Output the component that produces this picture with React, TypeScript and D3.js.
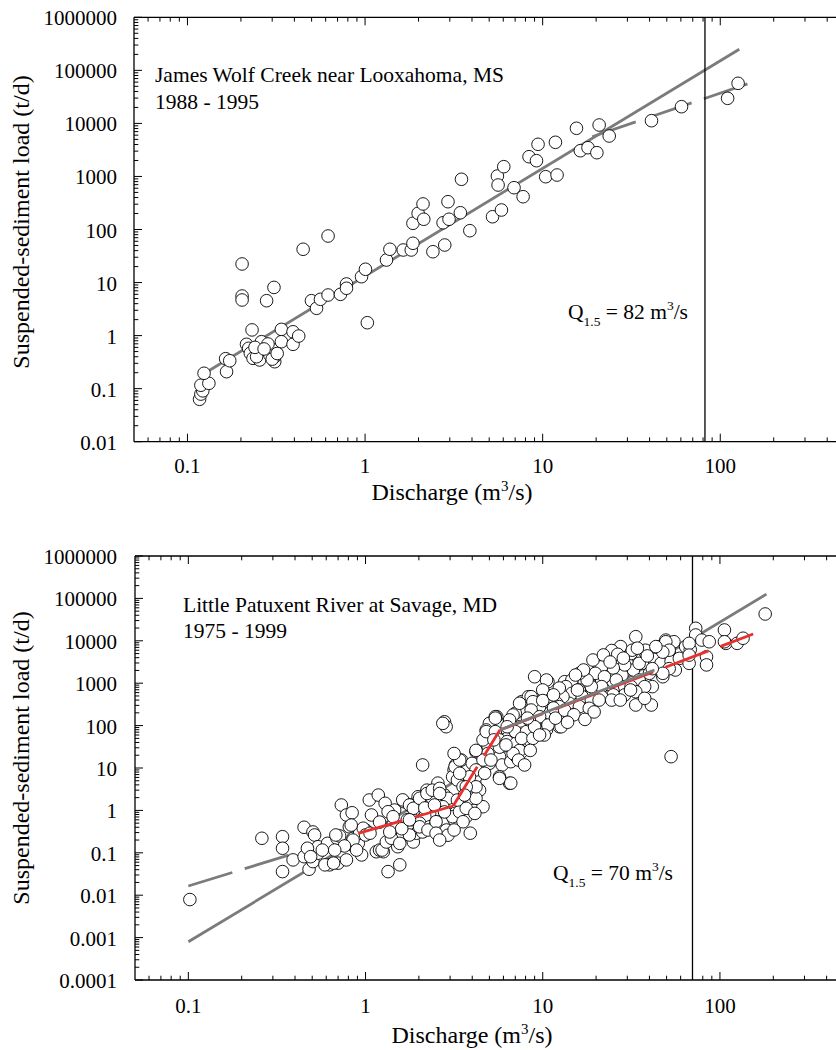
import React from "react";
import * as d3 from "d3";

type Pt = [number, number];

// ---------- James Wolf Creek (discharge m3/s, load t/d) ----------
const jamesPoints: Pt[] = [
  [0.117, 0.063], [0.119, 0.079], [0.122, 0.091], [0.119, 0.116], [0.132, 0.126], [0.124, 0.195],
  [0.166, 0.209], [0.164, 0.367], [0.173, 0.336], [0.203, 22.4], [0.203, 5.57], [0.203, 4.69],
  [0.279, 4.55], [0.307, 8.1], [0.448, 42.4], [0.619, 75.4], [0.231, 1.28], [0.215, 0.685],
  [0.221, 0.576], [0.226, 0.464], [0.234, 0.373], [0.255, 0.347], [0.261, 0.767], [0.279, 0.535],
  [0.291, 0.431], [0.31, 0.322], [0.31, 0.4], [0.31, 0.535], [0.338, 1.31], [0.338, 0.767],
  [0.393, 1.18], [0.393, 0.685], [0.423, 0.98], [0.499, 4.55], [0.533, 3.27], [0.561, 4.83],
  [0.619, 5.82], [0.727, 6.0], [0.786, 9.4], [0.786, 7.8], [0.955, 12.9], [1.005, 17.8],
  [1.03, 1.75], [1.32, 26.6], [1.38, 42.4], [1.64, 41.1], [1.82, 41.1], [1.86, 55],
  [1.86, 131], [1.99, 202], [2.12, 303], [2.14, 156], [2.41, 38.1], [2.75, 134],
  [2.81, 51], [2.93, 334], [2.97, 156], [3.44, 207], [3.49, 884], [3.89, 94.9],
  [5.22, 174], [5.86, 233], [5.56, 1019], [5.61, 690], [6.04, 1528], [6.9, 614],
  [7.76, 415], [8.38, 2356], [9.23, 1982], [9.42, 4036], [10.4, 989], [12.05, 1064],
  [11.8, 4403], [15.5, 8090], [16.3, 3056], [18.0, 3483], [20.2, 2805], [20.8, 9330],
  [23.7, 5785], [41.0, 11250], [60.5, 20650], [110, 29700], [126, 57000],
  [0.245, 0.4], [0.284, 0.695], [0.24, 0.6], [0.3, 0.36], [0.32, 0.46], [0.27, 0.56],
];
const jamesFitAll: Pt[] = [[0.125, 0.195], [128, 250000]];
const jamesFitHigh: Pt[] = [[19, 5600], [148, 58000]];
const jamesQ15 = 82;

// ---------- Little Patuxent River ----------
const patuxentPoints: Pt[] = [
  [0.102, 0.0079], [0.26, 0.22], [0.34, 0.24], [0.34, 0.128], [0.34, 0.036], [0.39, 0.068],
  [0.45, 0.4], [0.505, 0.31], [0.516, 0.263], [0.45, 0.081], [0.48, 0.041], [0.505, 0.062],
  [0.54, 0.098], [0.54, 0.139], [0.61, 0.167], [0.627, 0.052], [0.7, 0.057], [0.78, 0.068],
  [0.69, 0.22], [0.714, 0.25], [0.73, 1.34], [0.78, 0.78], [0.84, 0.88], [0.81, 0.41],
  [0.85, 0.22], [0.85, 0.15], [0.91, 0.167], [0.95, 0.089], [0.926, 0.29], [1.0, 0.345],
  [1.05, 1.76], [1.18, 2.3], [1.29, 1.47], [1.46, 1.02], [1.49, 0.41], [1.15, 0.106],
  [1.2, 0.116], [1.26, 0.106], [1.34, 0.036], [1.56, 0.052], [1.62, 0.263], [1.65, 1.6],
  [1.81, 1.34], [1.94, 0.59], [1.86, 0.18], [1.98, 2.1], [1.43, 0.45], [1.34, 0.93],
  [0.68, 0.263], [0.97, 0.38], [0.83, 0.45], [0.59, 0.052], [0.66, 0.057], [0.47, 0.128],
  [0.49, 0.081], [1.0, 0.263], [0.85, 0.2], [1.06, 0.29],
  [1.62, 1.77], [1.77, 1.34], [1.88, 1.02], [1.85, 0.6], [1.72, 0.6], [2.02, 1.47],
  [2.22, 3.0], [2.3, 2.5], [2.38, 1.93], [2.56, 4.4], [2.62, 3.0], [2.79, 2.3],
  [2.92, 1.93], [2.73, 1.22], [2.5, 1.02], [2.3, 0.85], [2.16, 0.71], [2.02, 0.5],
  [1.94, 0.29], [2.1, 0.31], [2.3, 0.41], [2.5, 0.5], [2.68, 0.41], [2.86, 0.54],
  [3.06, 0.78], [3.2, 0.85], [3.16, 0.6], [3.55, 1.22], [3.7, 0.71], [3.9, 0.29],
  [4.2, 1.12], [4.6, 1.22], [4.4, 3.0], [4.14, 4.36], [3.47, 15.4], [3.22, 11.8],
  [3.16, 8.97], [3.1, 6.2], [3.3, 5.2], [3.55, 3.6], [3.86, 3.0], [3.95, 1.93],
  [4.2, 1.93], [4.2, 6.2], [4.0, 12.9], [4.2, 24.3], [4.8, 18.5], [4.9, 35],
  [5.0, 12.9], [5.5, 29], [5.7, 18.5], [5.9, 11.8], [6.6, 14.1], [6.5, 4.36],
  [5.7, 6.2], [7.1, 18.5], [7.0, 66], [7.6, 46], [8.1, 39], [7.4, 94],
  [6.5, 124], [7.0, 195], [7.6, 366], [8.3, 480], [5.5, 162], [5.0, 113],
  [4.8, 79], [5.3, 60], [6.3, 79], [6.3, 50], [6.6, 32], [7.6, 24],
  [2.1, 11.8], [2.79, 123], [2.85, 94], [5.4, 162], [4.6, 46], [5.6, 46],
  [6.8, 178], [6.5, 94], [7.6, 66], [8.4, 46],
  [1.24, 0.116], [1.31, 0.18], [1.52, 0.139], [1.49, 0.41], [1.43, 0.71], [1.4, 0.22],
  [1.56, 0.167], [1.77, 0.263], [2.02, 0.41], [2.25, 0.345], [2.5, 0.54], [2.86, 0.345],
  [3.1, 0.71], [3.39, 0.93], [3.7, 1.12], [4.14, 0.85], [3.55, 0.54], [2.5, 0.29],
  [1.86, 1.12], [2.02, 1.93], [2.22, 2.5], [2.38, 3.0], [2.62, 3.3],
  [4.9, 22], [4.6, 15.4], [5.1, 15.4], [4.2, 26], [4.2, 9], [3.86, 6.2],
  [4.7, 7.5], [5.7, 5.7], [6.6, 4.4], [4.2, 3.6], [3.7, 3.6], [3.2, 10.7],
  [3.4, 15.4], [3.16, 22], [3.4, 7.5], [2.62, 2.5], [2.73, 113], [5.4, 150],
  [4.8, 72], [5.4, 72], [5.7, 46], [6.3, 42], [7.1, 39], [7.4, 26],
  [6.8, 22], [5.7, 31], [5.3, 46], [7.0, 72], [8.1, 72], [7.6, 50],
  [8.8, 50], [9.1, 94],
  [9.0, 1420], [10.7, 1085], [8.6, 480], [9.1, 256], [10.2, 578], [10.9, 440],
  [9.9, 162], [10.9, 136], [10.5, 79], [12.4, 94], [12.7, 195], [12.2, 336],
  [13.5, 692], [13.3, 1085], [14.6, 1000], [14.4, 480], [16.1, 692], [16.1, 336],
  [17.8, 1420], [18.3, 1000], [19.2, 578], [18.7, 336], [20.8, 2450], [21.5, 1190],
  [22.3, 692], [23.7, 480], [24.5, 4600], [27.5, 7300], [26.5, 2450], [28, 1560],
  [27, 692], [29, 578], [30, 2940], [31.5, 5000], [33.5, 12500], [32.5, 2050],
  [35, 1190], [36.5, 2940], [37.5, 5600], [40, 1710], [41.5, 830], [42.5, 3650],
  [45.4, 7300], [49.5, 10400], [55, 9500], [51.7, 5400], [46.5, 2940], [47.6, 1420],
  [53, 3300], [59, 3850], [56, 2050], [64, 7300], [68, 6200], [67, 2940],
  [73, 19700], [73, 13700], [79, 10400], [87, 9500], [84, 4200], [84, 2700],
  [106, 18000], [108, 8700], [125, 8700], [135, 11500], [180, 42900], [41, 306],
  [53, 18.5], [67, 8700], [67, 4600], [106, 9500], [49.5, 9500], [51.7, 6000],
  [47.6, 5400], [51.7, 2200], [47.6, 1710], [41.5, 2200], [37.6, 830],
  [24.5, 5900], [26.5, 4800], [32, 6000], [38, 6000], [43.5, 7300], [35, 2940],
  [29, 2700], [25, 2280], [21.5, 2450], [19.8, 1710], [22.3, 1420], [26, 1190],
  [29, 830], [31.5, 830], [33.5, 630], [29, 530], [25, 530], [21.5, 830],
  [18.8, 830], [17.8, 1190], [16.1, 1710], [14.6, 1190], [13.5, 830], [14.6, 578],
  [16.7, 480], [18.8, 400], [21.5, 480], [24.5, 400], [14.1, 336], [16.1, 280],
  [18.3, 256], [13, 480], [12, 336], [10.9, 480], [10.5, 1190], [10, 692],
  [12.4, 280], [12.7, 94], [10.9, 195], [9.6, 280], [8.8, 366], [8.6, 233],
  [9.6, 162], [8.4, 136], [7.4, 336], [6.5, 136], [6.3, 94],
  [10, 390], [11.5, 260], [10.7, 103], [11.8, 150], [10.2, 60], [13.3, 230],
  [15, 180], [17.3, 140], [19.5, 210], [13.8, 120], [15.7, 690], [19.2, 3520],
  [22, 4640], [24, 3160], [28.5, 3900], [34.2, 6700], [38.9, 4400], [17, 2050],
  [15.3, 1560], [12.4, 770], [11.5, 530], [20.8, 400], [27.4, 400], [33.5, 306],
  [37.6, 440], [31.3, 692], [6.2, 35], [7.3, 15.4], [8.5, 26], [9, 94],
  [8.2, 150], [9.6, 60], [7.9, 11.8], [1.08, 0.78], [1.2, 0.53], [1.37, 0.31],
  [1.6, 0.37], [1.77, 0.6], [2.16, 1.14], [2.45, 1.34], [2.79, 0.92], [2.92, 0.26],
  [2.62, 0.2], [3.16, 0.345], [3.3, 1.76], [3.62, 2.3], [0.57, 0.116], [0.76, 0.145],
  [0.89, 0.116], [0.67, 0.116],
];
const patuxentFitAll: Pt[] = [[0.1, 0.0008], [183, 126000]];
const patuxentFitLow: Pt[] = [[0.1, 0.0165], [0.9, 0.277]];
const patuxentRedSegments: Pt[][] = [
  [[0.908, 0.288], [3.12, 1.27]],
  [[3.12, 1.27], [5.73, 78.8]],
  [[5.73, 78.8], [154, 14500]],
];
const patuxentGrayMid: Pt[] = [[5.73, 78.8], [42.7, 2048]];
const patuxentQ15 = 70;

// ---------- tick labels ----------
const xTickLabels = ["0.1", "1", "10", "100"];
const yTickLabelsTop = ["0.01", "0.1", "1", "10", "100", "1000", "10000", "100000", "1000000"];
const yTickLabelsBottom = ["0.0001", "0.001", "0.01", "0.1", "1", "10", "100", "1000", "10000", "100000", "1000000"];

const FONT = "'Liberation Serif', 'Times New Roman', serif";
const GRAY = "#7b7b7b";
const RED = "#e8302f";
const DASH = "46 13";

type LineSpec = { pts: Pt[]; color: string; dash?: string };

interface PanelProps {
  y0: number;
  y1: number;
  x0: number;
  decadePx: number;
  yLabels: string[];
  points: Pt[];
  under: LineSpec[];
  over: LineSpec[];
  q15: number;
  site: string;
  years: string;
  siteX: number;
  siteY: number;
  qLabel: string;
  qX: number;
  qY: number;
  xTitleX: number;
  xTitleY: number;
  yTitleY: number;
  xLabelDy: number;
}

function Panel(p: PanelProps) {
  const yMin = +p.yLabels[0];
  const yMax = +p.yLabels[p.yLabels.length - 1];
  const x = d3.scaleLog().domain([0.05, 500]).range([p.x0, p.x0 + p.decadePx * 4]);
  const y = d3.scaleLog().domain([yMin, yMax]).range([p.y1, p.y0]);
  const line = d3.line<Pt>().x((d) => x(d[0])).y((d) => y(d[1]));

  const xTicks: { v: number; major: boolean }[] = [];
  for (let e = -2; e <= 2; e++) {
    for (let k = 1; k <= 9; k++) {
      const v = k * Math.pow(10, e);
      if (v > 0.0501 && v < 501) xTicks.push({ v, major: k === 1 });
    }
  }
  const yTicks: { v: number; major: boolean }[] = [];
  const eMin = Math.round(Math.log10(yMin));
  const eMax = Math.round(Math.log10(yMax));
  for (let e = eMin; e <= eMax; e++) {
    for (let k = 1; k <= 9; k++) {
      if (e === eMax && k > 1) break;
      yTicks.push({ v: k * Math.pow(10, e), major: k === 1 });
    }
  }
  const right = 860;
  const axisW = 1.3;

  return (
    <g>
      {p.under.map((l, i) => (
        <path key={"u" + i} d={line(l.pts) || ""} fill="none" stroke={l.color} strokeWidth={2.8}
          strokeDasharray={l.dash} />
      ))}
      <line x1={x(p.q15)} x2={x(p.q15)} y1={p.y0} y2={p.y1} stroke="#000" strokeWidth={1.3} />
      {p.points.map((d, i) => (
        <circle key={i} cx={x(d[0])} cy={y(d[1])} r={6.3} fill="#fff" stroke="#000" strokeWidth={0.9} />
      ))}
      {p.over.map((l, i) => (
        <path key={"o" + i} d={line(l.pts) || ""} fill="none" stroke={l.color} strokeWidth={2.8}
          strokeDasharray={l.dash} />
      ))}
      <line x1={p.x0} x2={p.x0} y1={p.y0} y2={p.y1} stroke="#000" strokeWidth={axisW} />
      <line x1={p.x0} x2={right} y1={p.y1} y2={p.y1} stroke="#000" strokeWidth={axisW} />
      <line x1={p.x0} x2={right} y1={p.y0} y2={p.y0} stroke="#000" strokeWidth={axisW} />
      {xTicks.map((t, i) => {
        const len = t.major ? 8 : 4.3;
        return (
          <g key={"xt" + i}>
            <line x1={x(t.v)} x2={x(t.v)} y1={p.y1} y2={p.y1 - len} stroke="#000" strokeWidth={1} />
            <line x1={x(t.v)} x2={x(t.v)} y1={p.y0} y2={p.y0 + len} stroke="#000" strokeWidth={1} />
          </g>
        );
      })}
      {yTicks.map((t, i) => {
        const len = t.major ? 8 : 4.3;
        return (
          <line key={"yt" + i} x1={p.x0} x2={p.x0 + len} y1={y(t.v)} y2={y(t.v)} stroke="#000" strokeWidth={1} />
        );
      })}
      {xTickLabels.map((s) => (
        <text key={"xl" + s} x={x(+s)} y={p.y1 + p.xLabelDy} textAnchor="middle" fontSize={21} fontFamily={FONT}>
          {s}
        </text>
      ))}
      {p.yLabels.map((s) => (
        <text key={"yl" + s} x={117} y={y(+s) + 8} textAnchor="end" fontSize={21} fontFamily={FONT}>
          {s}
        </text>
      ))}
      <text x={p.xTitleX} y={p.xTitleY} textAnchor="middle" fontSize={24} fontFamily={FONT}>
        Discharge (m<tspan fontSize={15} dy={-9}>3</tspan><tspan dy={9}>/s)</tspan>
      </text>
      <text transform={`translate(29,${p.yTitleY}) rotate(-90)`} textAnchor="middle" fontSize={24} fontFamily={FONT}>
        Suspended-sediment load (t/d)
      </text>
      <text x={p.siteX} y={p.siteY} fontSize={21.5} fontFamily={FONT}>{p.site}</text>
      <text x={p.siteX} y={p.siteY + 26.5} fontSize={21.5} fontFamily={FONT}>{p.years}</text>
      <text x={p.qX} y={p.qY} fontSize={21.5} fontFamily={FONT} style={{ whiteSpace: "pre" }}>
        Q<tspan fontSize={13.5} dy={7}>1.5</tspan>
        <tspan dy={-7}>{" = " + p.qLabel + " m"}</tspan>
        <tspan fontSize={13.5} dy={-9}>3</tspan>
        <tspan dy={9}>/s</tspan>
      </text>
    </g>
  );
}

export default function App() {
  return (
    <svg width={836} height={1050} viewBox="0 0 836 1050"
      style={{ position: "absolute", left: 0, top: 0, background: "#fff" }}>
      <rect x={0} y={0} width={836} height={1050} fill="#fff" />
      <Panel
        y0={17.3} y1={441.7} x0={134} decadePx={177.6}
        yLabels={yTickLabelsTop}
        points={jamesPoints}
        under={[
          { pts: jamesFitAll, color: GRAY },
          { pts: jamesFitHigh, color: GRAY, dash: DASH },
        ]}
        over={[]}
        q15={jamesQ15}
        site="James Wolf Creek near Looxahoma, MS" years="1988 - 1995"
        siteX={155} siteY={82}
        qLabel={String(jamesQ15)} qX={568} qY={319}
        xTitleX={452} xTitleY={500} yTitleY={222} xLabelDy={31.6}
      />
      <Panel
        y0={556} y1={980} x0={135} decadePx={177.2}
        yLabels={yTickLabelsBottom}
        points={patuxentPoints}
        under={[
          { pts: patuxentFitAll, color: GRAY },
          { pts: patuxentFitLow, color: GRAY, dash: DASH },
        ]}
        over={[
          ...patuxentRedSegments.map((s) => ({ pts: s, color: RED, dash: DASH })),
          { pts: patuxentGrayMid, color: GRAY },
        ]}
        q15={patuxentQ15}
        site="Little Patuxent River at Savage, MD" years="1975 - 1999"
        siteX={183} siteY={611.7}
        qLabel={String(patuxentQ15)} qX={553} qY={880}
        xTitleX={472} xTitleY={1043} yTitleY={758} xLabelDy={33.3}
      />
    </svg>
  );
}
